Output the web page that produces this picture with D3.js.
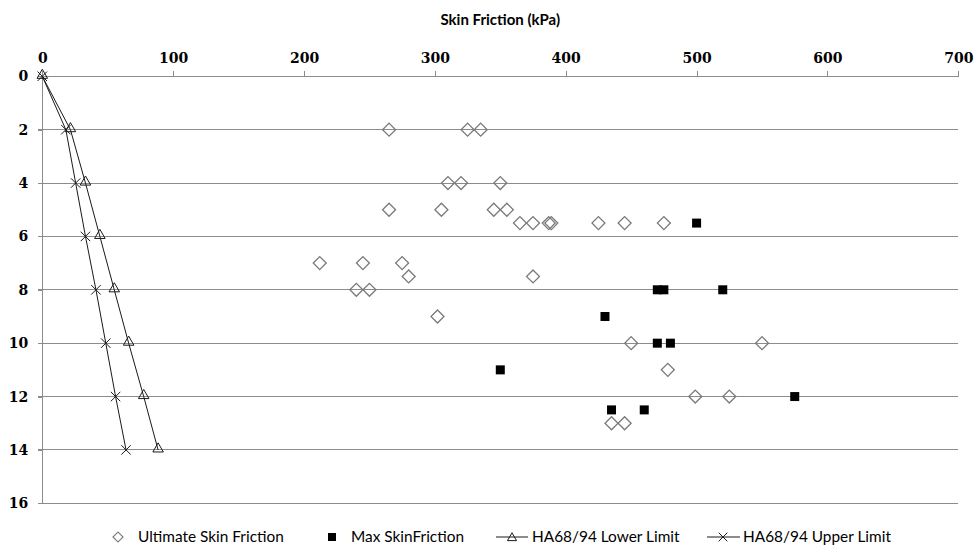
<!DOCTYPE html>
<html>
<head>
<meta charset="utf-8">
<script src="https://cdn.jsdelivr.net/npm/d3@7"></script>
<style>
  html, body { margin: 0; padding: 0; background: #fff; }
  svg { display: block; }
</style>
</head>
<body>
<svg id="chart" width="975" height="548"></svg>
<script>
// ---------- data ----------
const xTicks = [0, 100, 200, 300, 400, 500, 600, 700];
const yTicks = [0, 2, 4, 6, 8, 10, 12, 14, 16];

// Ultimate Skin Friction: [friction kPa, depth]
const ultimateFriction = [265, 325, 335, 310, 320, 350, 265, 305, 345, 355,
  365, 375, 387, 389, 425, 445, 475, 212, 245, 275, 280, 375, 240, 250,
  302, 450, 550, 478, 499, 525, 435, 445];
const ultimateDepth = [2, 2, 2, 4, 4, 4, 5, 5, 5, 5,
  5.5, 5.5, 5.5, 5.5, 5.5, 5.5, 5.5, 7, 7, 7, 7.5, 7.5, 8, 8,
  9, 10, 10, 11, 12, 12, 13, 13];

// Max Skin Friction
const maxFriction = [500, 470, 475, 520, 430, 470, 480, 350, 575, 435, 460];
const maxDepth = [5.5, 8, 8, 8, 9, 10, 10, 11, 12, 12.5, 12.5];

// HA68/94 limits
const limitDepth = [0, 2, 4, 6, 8, 10, 12, 14];
const lowerLimit = [0, 21.5, 33, 44, 55, 66, 77.5, 88.5];
const upperLimit = [0, 18, 25.5, 33, 41, 48.5, 56, 64];

const seriesNames = ["Ultimate Skin Friction", "Max SkinFriction", "HA68/94 Lower Limit", "HA68/94 Upper Limit"];
const xTitle = "Skin Friction (kPa)";

// ---------- chart ----------
const svg = d3.select("#chart");
const x = d3.scaleLinear().domain([0, 700]).range([42.3, 958.3]);
const y = d3.scaleLinear().domain([0, 16]).range([76.3, 503.3]);

const gridColor = "#8c8c8c";
const sansFont = "Lato, 'Open Sans', sans-serif";
const serifFont = "'DejaVu Serif', 'Liberation Serif', serif";

// horizontal gridlines
svg.append("g").selectAll("line").data(yTicks).join("line")
  .attr("x1", x(0) - 4).attr("x2", x(700))
  .attr("y1", d => y(d)).attr("y2", d => y(d))
  .attr("stroke", gridColor).attr("stroke-width", 1)
  .attr("shape-rendering", "crispEdges");

// top axis
const xAxis = svg.append("g").attr("transform", `translate(0,${y(0)})`)
  .call(d3.axisTop(x).tickValues(xTicks).tickSize(5).tickPadding(8).tickFormat(d3.format("d")));
xAxis.select(".domain").attr("stroke", gridColor).attr("shape-rendering", "crispEdges");
xAxis.selectAll(".tick line").attr("stroke", gridColor).attr("shape-rendering", "crispEdges");
xAxis.selectAll("text").attr("font-family", serifFont).attr("font-size", 14)
  .attr("font-weight", "bold").attr("fill", "#000");

// left axis
const yAxis = svg.append("g").attr("transform", `translate(${x(0)},0)`)
  .call(d3.axisLeft(y).tickValues(yTicks).tickSize(4).tickPadding(10).tickFormat(d3.format("d")));
yAxis.select(".domain").attr("stroke", gridColor).attr("shape-rendering", "crispEdges");
yAxis.selectAll(".tick line").attr("stroke", gridColor).attr("shape-rendering", "crispEdges");
yAxis.selectAll("text").attr("font-family", serifFont).attr("font-size", 14)
  .attr("font-weight", "bold").attr("fill", "#000");

// title
svg.append("text").attr("x", (x(0) + x(700)) / 2).attr("y", 25)
  .attr("text-anchor", "middle").attr("font-family", sansFont)
  .attr("font-size", 15).attr("font-weight", "bold").attr("fill", "#000")
  .text(xTitle);

// limit lines
const lineGen = d3.line().x(d => x(d[0])).y(d => y(d[1]));
const lowerPts = lowerLimit.map((v, i) => [v, limitDepth[i]]);
const upperPts = upperLimit.map((v, i) => [v, limitDepth[i]]);
const lineColor = "#1a1a1a";

svg.append("path").datum(lowerPts).attr("d", lineGen)
  .attr("fill", "none").attr("stroke", lineColor).attr("stroke-width", 1);
svg.append("path").datum(upperPts).attr("d", lineGen)
  .attr("fill", "none").attr("stroke", lineColor).attr("stroke-width", 1);

const triPath = d3.symbol().type(d3.symbolTriangle).size(48)();
const xPath = d3.symbol().type(d3.symbolX).size(60)();
const diamondPath = d3.symbol().type(d3.symbolSquare).size(84)();
const squarePath = d3.symbol().type(d3.symbolSquare).size(81)();

svg.append("g").selectAll("path").data(lowerPts).join("path")
  .attr("d", triPath).attr("transform", d => `translate(${x(d[0])},${y(d[1]) - 1})`)
  .attr("fill", "none").attr("stroke", lineColor).attr("stroke-width", 1);
svg.append("g").selectAll("path").data(upperPts).join("path")
  .attr("d", xPath).attr("transform", d => `translate(${x(d[0])},${y(d[1])})`)
  .attr("fill", "none").attr("stroke", lineColor).attr("stroke-width", 1);

// ultimate (diamonds)
const ultPts = ultimateFriction.map((v, i) => [v, ultimateDepth[i]]);
svg.append("g").selectAll("path").data(ultPts).join("path")
  .attr("d", diamondPath)
  .attr("transform", d => `translate(${x(d[0])},${y(d[1])}) rotate(45)`)
  .attr("fill", "none").attr("stroke", "#7a7a7a").attr("stroke-width", 1.3);

// max (squares)
const maxPts = maxFriction.map((v, i) => [v, maxDepth[i]]);
svg.append("g").selectAll("path").data(maxPts).join("path")
  .attr("d", squarePath)
  .attr("transform", d => `translate(${x(d[0])},${y(d[1])})`)
  .attr("fill", "#000");

// legend
const legY = 537;
const leg = svg.append("g");
leg.append("path").attr("d", d3.symbol().type(d3.symbolSquare).size(50)())
  .attr("transform", `translate(118,${legY}) rotate(45)`)
  .attr("fill", "none").attr("stroke", "#7a7a7a").attr("stroke-width", 1.2);
leg.append("path").attr("d", d3.symbol().type(d3.symbolSquare).size(64)())
  .attr("transform", `translate(332,${legY})`).attr("fill", "#000");
leg.append("line").attr("x1", 496).attr("x2", 528).attr("y1", legY).attr("y2", legY)
  .attr("stroke", lineColor);
leg.append("path").attr("d", d3.symbol().type(d3.symbolTriangle).size(36)())
  .attr("transform", `translate(512,${legY + 1})`).attr("fill", "none").attr("stroke", lineColor);
leg.append("line").attr("x1", 707).attr("x2", 740).attr("y1", legY).attr("y2", legY)
  .attr("stroke", lineColor);
leg.append("path").attr("d", d3.symbol().type(d3.symbolX).size(50)())
  .attr("transform", `translate(723,${legY})`).attr("fill", "none").attr("stroke", lineColor);

const legTextX = [138, 351, 532, 743];
leg.selectAll("text.lt").data(seriesNames).join("text").attr("class", "lt")
  .attr("x", (d, i) => legTextX[i]).attr("y", legY + 5)
  .attr("font-family", sansFont).attr("font-size", 15.4).attr("fill", "#000")
  .text(d => d);
</script>
</body>
</html>
